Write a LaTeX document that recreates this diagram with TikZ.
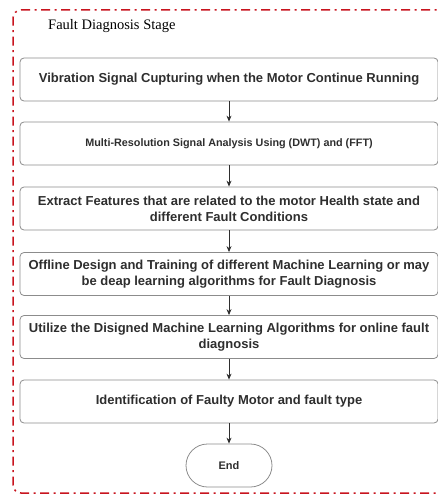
\documentclass[tikz,border=0pt]{standalone}
\usepackage{fontspec}
\setmainfont{Liberation Serif}
\newfontfamily\boxfont{Liberation Sans}
\usetikzlibrary{arrows.meta,shapes.misc}
\definecolor{framered}{HTML}{C8141E}
\definecolor{boxline}{HTML}{8C8C8C}
\definecolor{ink}{HTML}{2E2E2E}
\begin{document}
\begin{tikzpicture}[x=1pt,y=-1pt,
  stagebox/.style={draw=boxline, line width=0.8pt, rounded corners=4pt,
    minimum width=418pt, minimum height=43pt, inner sep=0pt,
    align=center, text=ink,
    font=\boxfont\bfseries\fontsize{13}{16}\selectfont},
  endbox/.style={draw=boxline, line width=0.8pt, rounded rectangle,
    minimum width=86pt, minimum height=43pt, inner sep=0pt, text=ink,
    font=\boxfont\bfseries\fontsize{11}{13}\selectfont},
  flow/.style={draw=ink, line width=0.8pt, -{Stealth[length=6pt,width=5pt]}}]
\useasboundingbox (0,0) rectangle (437,495);
% stage frame (dash-dot, right side runs past the edge)
\draw[framered, line width=1.5pt, dash pattern=on 9pt off 4.5pt on 2pt off 4.5pt,
  rounded corners=8pt] (450,10) -- (13,10) -- (13,493) -- (450,493);
\node[anchor=west, font=\fontsize{14.5}{17}\selectfont, inner sep=0pt] (title) at (48,26) {Fault Diagnosis Stage};
% process steps
\node[stagebox] (s1) at (229,79.5) {Vibration Signal Cupturing when the Motor Continue Running};
\node[stagebox, font=\boxfont\bfseries\fontsize{10.8}{13}\selectfont] (s2) at (229,143.5) {Multi-Resolution Signal Analysis Using (DWT) and (FFT)};
\node[stagebox] (s3) at (229,208.5) {Extract Features that are related to the motor Health state and\\ different Fault Conditions};
\node[stagebox] (s4) at (229,274) {Offline Design and Training of different Machine Learning or may\\ be deap learning algorithms for Fault Diagnosis};
\node[stagebox] (s5) at (229,337) {Utilize the Disigned Machine Learning Algorithms for online fault\\ diagnosis};
\node[stagebox] (s6) at (229,401.5) {Identification of Faulty Motor and fault type};
\node[endbox] (end) at (229,465.5) {End};
% connectors
\draw[flow] (s1) -- (s2);
\draw[flow] (s2) -- (s3);
\draw[flow] (s3) -- (s4);
\draw[flow] (s4) -- (s5);
\draw[flow] (s5) -- (s6);
\draw[flow] (s6) -- (end);
\end{tikzpicture}
\end{document}
